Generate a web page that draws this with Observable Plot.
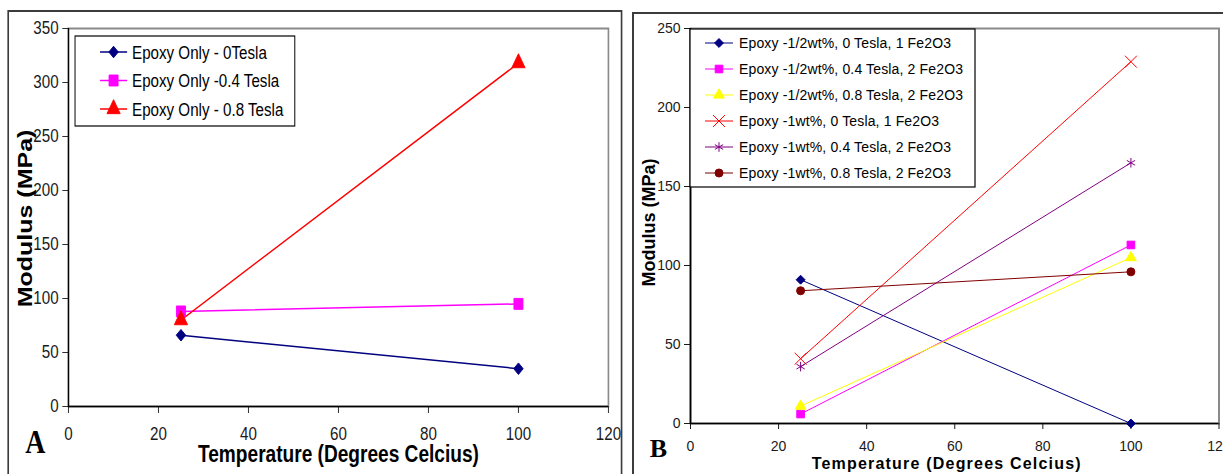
<!DOCTYPE html>
<html><head><meta charset="utf-8">
<script src="https://cdn.jsdelivr.net/npm/d3@7"></script>
<script src="https://cdn.jsdelivr.net/npm/@observablehq/plot@0.6"></script>
<style>
html,body{margin:0;padding:0;background:#fff;}
#root{position:relative;width:1223px;height:474px;overflow:hidden;background:#fff;}
svg{overflow:visible;}
</style></head>
<body><div id="root"></div>
<script>
// ---------- data ----------
const temperatures = [25, 100];
const xTicks = [0, 20, 40, 60, 80, 100, 120];
const xTitle = "Temperature (Degrees Celcius)";
const yTitle = "Modulus (MPa)";
const panelLabels = ["A", "B"];

const seriesA = ["Epoxy Only - 0Tesla", "Epoxy Only -0.4 Tesla", "Epoxy Only - 0.8 Tesla"];
const valuesA = [[66, 35], [88, 95], [80, 318]];
const yTicksA = [0, 50, 100, 150, 200, 250, 300, 350];

const seriesB = [
  "Epoxy -1/2wt%, 0 Tesla, 1 Fe2O3",
  "Epoxy -1/2wt%, 0.4 Tesla, 2 Fe2O3",
  "Epoxy -1/2wt%, 0.8 Tesla, 2 Fe2O3",
  "Epoxy -1wt%, 0 Tesla, 1 Fe2O3",
  "Epoxy -1wt%, 0.4 Tesla, 2 Fe2O3",
  "Epoxy -1wt%, 0.8 Tesla, 2 Fe2O3"
];
const valuesB = [[91, 0], [6, 113], [11, 105], [41, 229], [36, 165], [84, 96]];
const yTicksB = [0, 50, 100, 150, 200, 250];

// ---------- styles ----------
const colorsA = ["#000080", "#ff00ff", "#ff0000"];
const symbolsA = ["diamond2", "square", "triangle"];
const radiiA = [5.2, 6.2, 6];
const colorsB = ["#000080", "#ff00ff", "#ffff00", "#ff0000", "#800080", "#800000"];
const symbolsB = ["diamond2", "square", "triangle", "times", "asterisk", "circle"];
const radiiB = [4, 4.3, 4, 5.5, 4.5, 4];

const FONT = '"Liberation Sans", Arial, Helvetica, sans-serif';
const SERIF = '"Liberation Serif", "Times New Roman", serif';
const D3SYM = {diamond2: d3.symbolDiamond2, square: d3.symbolSquare, triangle: d3.symbolTriangle,
  times: d3.symbolTimes, asterisk: d3.symbolAsterisk, circle: d3.symbolCircle};
const OPEN = new Set(["times", "asterisk"]);

const root = document.getElementById("root");

function makePanel(p) {
  const container = document.createElement("div");
  Object.assign(container.style, {position: "absolute", left: p.left + "px", top: "0px",
    width: p.width + "px", height: "474px"});
  if (p.scaleX !== 1) { container.style.transform = `scaleX(${p.scaleX})`; container.style.transformOrigin = "0 0"; }
  root.appendChild(container);

  const frame = document.createElement("div");
  Object.assign(frame.style, {position: "absolute", left: p.frame[0] + "px", top: p.frame[1] + "px",
    width: p.frame[2] + "px", height: p.frame[3] + "px", border: "2px solid #3c3c3c", boxSizing: "border-box"});
  container.appendChild(frame);

  const lines = [], dots = [];
  p.values.forEach((vals, i) => {
    const rows = temperatures.map((t, j) => ({t, v: vals[j]}));
    lines.push(Plot.line(rows, {x: "t", y: "v", stroke: p.colors[i], strokeWidth: p.lineWidth}));
    const open = OPEN.has(p.symbols[i]);
    dots.push(Plot.dot(rows, {x: "t", y: "v", symbol: p.symbols[i], r: p.radii[i],
      fill: open ? "none" : p.colors[i], stroke: p.colors[i], strokeWidth: 1}));
  });

  const chart = Plot.plot({
    width: p.width, height: 474,
    marginTop: p.margin[0], marginRight: p.margin[1], marginBottom: p.margin[2], marginLeft: p.margin[3],
    x: {domain: [0, 120]},
    y: {domain: p.yDomain},
    style: {fontFamily: FONT, color: "#1a1a1a", background: "none", overflow: "visible"},
    marks: [
      Plot.frame({stroke: "#8a8a8a", strokeWidth: 2}),
      Plot.axisX({ticks: xTicks, tickSize: p.tick, tickPadding: p.xPad, fontSize: p.tickFont, label: null, tickFormat: d => String(d)}),
      Plot.axisY({ticks: p.yTicks, tickSize: p.tick, tickPadding: p.yPad, fontSize: p.tickFont, label: null, tickFormat: d => String(d)}),
      Plot.ruleX([0], {stroke: "#000", strokeWidth: 1.6}),
      Plot.ruleY([0], {stroke: "#000", strokeWidth: 1.6}),
      ...lines,
      ...dots,
      Plot.text([xTitle], {text: d => d, frameAnchor: "bottom", textAnchor: "middle", lineAnchor: "middle",
        dx: p.xT.dx, dy: p.xT.dy, fontSize: p.xT.size, fontWeight: "bold", fill: "#000"}),
      Plot.text([yTitle], {text: d => d, frameAnchor: "left", textAnchor: "middle", lineAnchor: "middle",
        rotate: -90, dx: p.yT.dx, dy: p.yT.dy, fontSize: p.yT.size, fontWeight: "bold", fill: "#000"})
    ]
  });
  chart.style.position = "absolute";
  chart.style.left = "0px";
  chart.style.top = "0px";
  if (p.xT.spacing) {
    chart.querySelectorAll("text").forEach(t => { if (t.textContent === xTitle) t.setAttribute("letter-spacing", p.xT.spacing); });
  }
  container.appendChild(chart);

  // legend + panel letter overlay
  const L = p.legend;
  const ov = d3.create("svg").attr("width", p.width).attr("height", 474)
    .style("position", "absolute").style("left", "0px").style("top", "0px");
  ov.append("rect").attr("x", L.x).attr("y", L.y).attr("width", L.w).attr("height", L.h)
    .attr("fill", "#fff").attr("stroke", "#000").attr("stroke-width", 1.2);
  p.series.forEach((name, i) => {
    const cy = L.rows[i];
    ov.append("line").attr("x1", L.lx0).attr("x2", L.lx1).attr("y1", cy).attr("y2", cy)
      .attr("stroke", p.colors[i]).attr("stroke-width", p.lineWidth);
    const open = OPEN.has(p.symbols[i]);
    ov.append("path").attr("d", d3.symbol(D3SYM[p.symbols[i]], Math.PI * p.radii[i] * p.radii[i])())
      .attr("transform", `translate(${(L.lx0 + L.lx1) / 2},${cy})`)
      .attr("fill", open ? "none" : p.colors[i]).attr("stroke", p.colors[i]).attr("stroke-width", 1);
    ov.append("text").attr("x", L.tx).attr("y", cy).attr("dy", "0.36em")
      .attr("font-family", FONT).attr("font-size", L.font).attr("fill", "#000")
      .attr("letter-spacing", L.spacing || 0).text(name);
  });
  ov.append("text").attr("x", p.tag.x).attr("y", p.tag.y).attr("text-anchor", "middle")
    .attr("font-family", SERIF).attr("font-weight", "bold").attr("font-size", p.tag.size)
    .attr("fill", "#000").text(p.tag.text);
  container.appendChild(ov.node());
}

makePanel({
  left: 0, width: 758, scaleX: 0.82,
  frame: [8.5, 10, 750, 480],
  margin: [28, 16.5, 68, 83],
  yDomain: [0, 350], yTicks: yTicksA,
  tick: 7, xPad: 13, yPad: 5, tickFont: 18.5,
  xT: {size: 23.3, dx: 0, dy: 48.5},
  yT: {size: 25, dx: -52.5, dy: 1},
  values: valuesA, series: seriesA, colors: colorsA, symbols: symbolsA, radii: radiiA, lineWidth: 1.5,
  legend: {x: 91.5, y: 36, w: 268, h: 90, rows: [52, 80.5, 109], lx0: 122, lx1: 155, tx: 161, font: 18.5},
  tag: {text: panelLabels[0], x: 43, y: 453, size: 34}
});

makePanel({
  left: 632, width: 591, scaleX: 1,
  frame: [0, 12, 600, 480],
  margin: [28, 4.5, 51, 58],
  yDomain: [0, 250], yTicks: yTicksB,
  tick: 6, xPad: 12, yPad: 4, tickFont: 14,
  xT: {size: 16, dx: -8, dy: 40, spacing: 1.2},
  yT: {size: 18, dx: -41, dy: -3.5},
  values: valuesB, series: seriesB, colors: colorsB, symbols: symbolsB, radii: radiiB, lineWidth: 1,
  legend: {x: 58, y: 29, w: 285, h: 158, rows: [43, 69, 95, 121, 147, 173], lx0: 73, lx1: 101, tx: 107, font: 14, spacing: 0.15},
  tag: {text: panelLabels[1], x: 26.5, y: 457, size: 26}
});
</script>
</body></html>
